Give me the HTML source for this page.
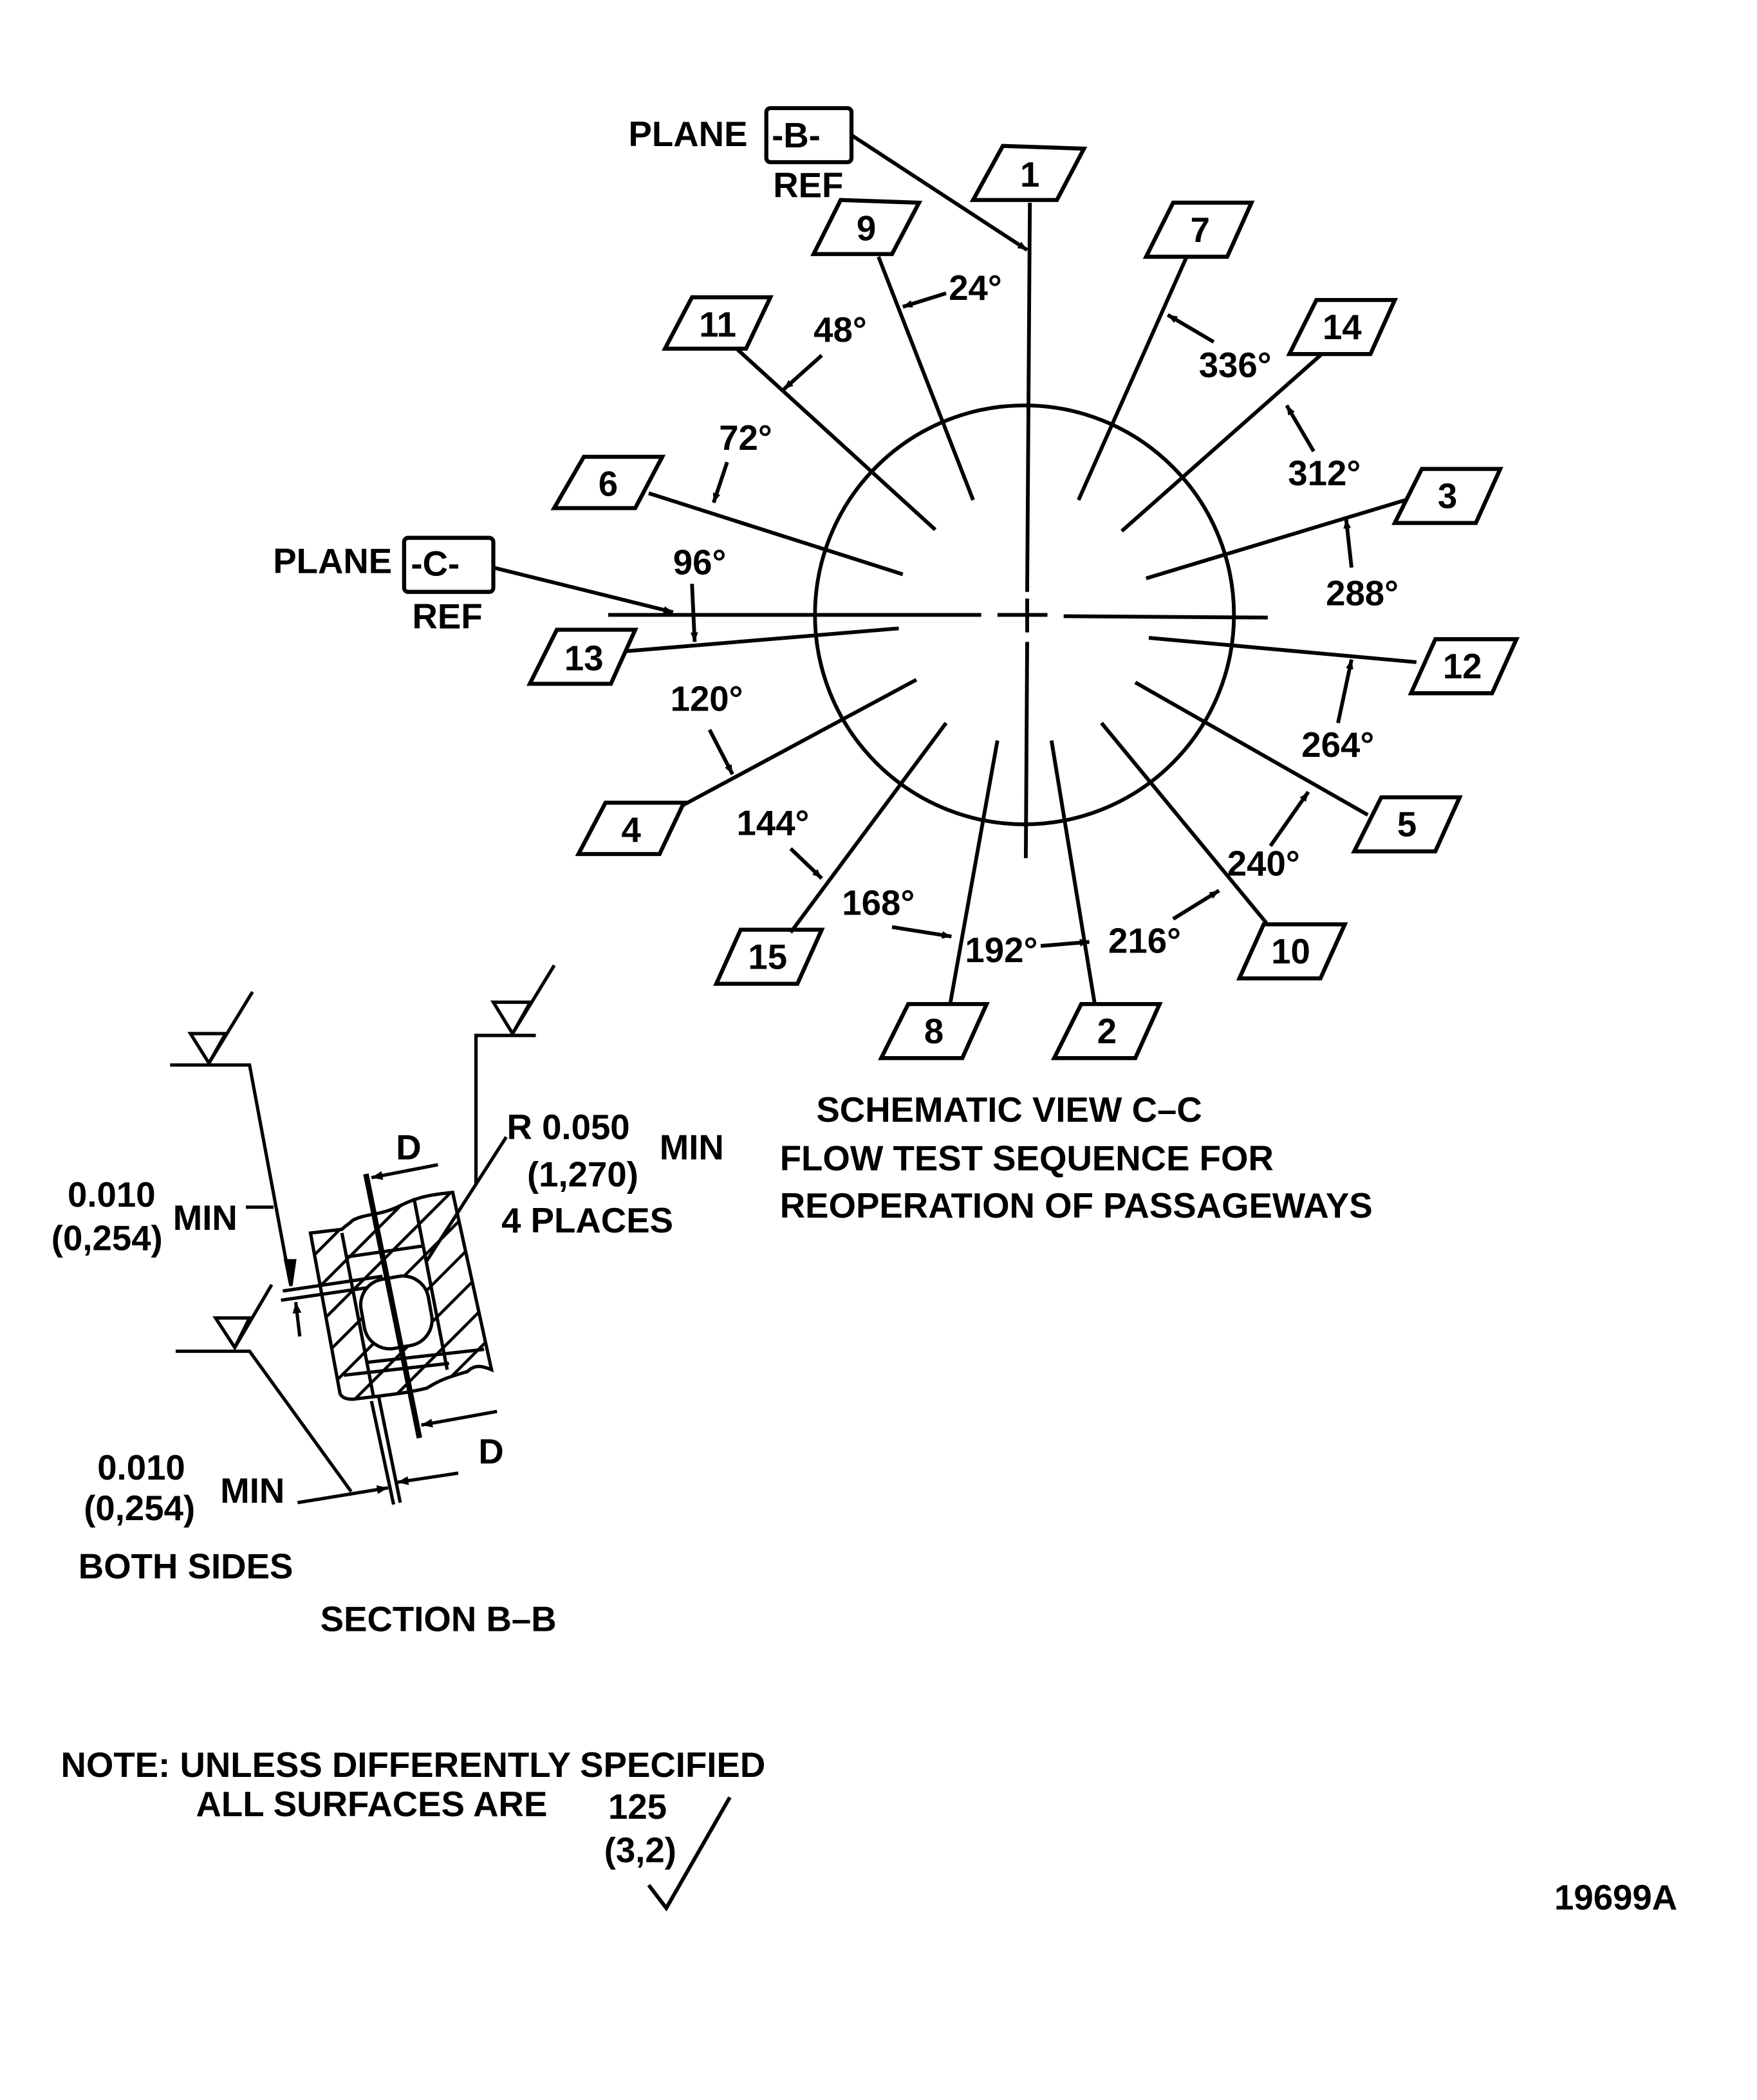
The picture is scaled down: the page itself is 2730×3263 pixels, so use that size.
<!DOCTYPE html>
<html><head><meta charset="utf-8"><style>
html,body{margin:0;padding:0;background:#fff;}
svg{display:block;}
text{font-family:"Liberation Sans",sans-serif;fill:#000;font-weight:bold;}
</style></head><body>
<svg width="2730" height="3263" viewBox="0 0 1300 1554" preserveAspectRatio="none" xmlns="http://www.w3.org/2000/svg">
<defs>
<marker id="a" viewBox="0 0 10 10" refX="10" refY="5" markerWidth="10" markerHeight="7" orient="auto" markerUnits="userSpaceOnUse"><path d="M0,1 L10,5 L0,9 z" fill="#000"/></marker>
<marker id="b" viewBox="0 0 10 10" refX="10" refY="5" markerWidth="55" markerHeight="30" orient="auto" markerUnits="userSpaceOnUse"><path d="M0,1 L10,5 L0,9 z" fill="#000"/></marker>
<clipPath id="cl"><path d="M405,725 L490,715 C500,705 510,700 520,690 C560,670 590,680 650,650 C700,625 740,620 790,615 L895,1095 C870,1085 850,1080 830,1100 C780,1115 760,1120 720,1145 C660,1160 600,1165 520,1175 C500,1175 490,1170 485,1160 Z"/></clipPath>
</defs>
<g stroke="#000" fill="none" stroke-width="2.8">
<circle cx="758" cy="455" r="155"/>
<line x1="450" y1="455" x2="726" y2="455"/>
<line x1="738" y1="455" x2="775" y2="455"/>
<line x1="787" y1="456" x2="938" y2="457"/>
<line x1="762" y1="150" x2="760" y2="438"/>
<line x1="760" y1="443" x2="760" y2="468"/>
<line x1="760" y1="475" x2="759" y2="635"/>
<line x1="720" y1="370" x2="650" y2="190"/>
<line x1="692" y1="392" x2="545" y2="258"/>
<line x1="668" y1="425" x2="480" y2="365"/>
<line x1="665" y1="465" x2="462" y2="482"/>
<line x1="678" y1="503" x2="505" y2="596"/>
<line x1="700" y1="535" x2="585" y2="690"/>
<line x1="738" y1="548" x2="703" y2="743"/>
<line x1="778" y1="548" x2="810" y2="743"/>
<line x1="815" y1="535" x2="937" y2="683"/>
<line x1="840" y1="505" x2="1012" y2="603"/>
<line x1="850" y1="472" x2="1048" y2="490"/>
<line x1="848" y1="428" x2="1040" y2="370"/>
<line x1="830" y1="393" x2="978" y2="262"/>
<line x1="798" y1="370" x2="878" y2="190"/>
<g stroke-width="3">
<path d="M742,108 L802,110 L782,148 L720,148 Z"/>
<path d="M622,148 L680,150 L660,188 L602,188 Z"/>
<path d="M512,220 L570,220 L552,258 L492,258 Z"/>
<path d="M432,338 L490,338 L470,376 L410,376 Z"/>
<path d="M412,466 L470,466 L452,506 L392,506 Z"/>
<path d="M448,594 L506,594 L488,632 L428,632 Z"/>
<path d="M548,688 L608,688 L590,728 L530,728 Z"/>
<path d="M672,743 L730,743 L712,783 L652,783 Z"/>
<path d="M800,743 L858,743 L840,783 L780,783 Z"/>
<path d="M935,684 L995,684 L977,724 L917,724 Z"/>
<path d="M1022,590 L1080,590 L1062,630 L1002,630 Z"/>
<path d="M1062,473 L1122,473 L1104,513 L1044,513 Z"/>
<path d="M1052,347 L1110,347 L1092,387 L1032,387 Z"/>
<path d="M974,222 L1032,222 L1014,262 L954,262 Z"/>
<path d="M868,150 L926,150 L908,190 L848,190 Z"/>
<rect x="567" y="80" width="63" height="40" rx="3"/>
<rect x="299" y="398" width="66" height="40" rx="3"/>
</g>
<line x1="630" y1="100" x2="760" y2="185" marker-end="url(#a)"/>
<line x1="365" y1="420" x2="498" y2="453" marker-end="url(#a)"/>
<line x1="700" y1="217" x2="668" y2="227" marker-end="url(#a)"/>
<line x1="608" y1="263" x2="580" y2="288" marker-end="url(#a)"/>
<line x1="538" y1="342" x2="528" y2="372" marker-end="url(#a)"/>
<line x1="512" y1="432" x2="514" y2="475" marker-end="url(#a)"/>
<line x1="525" y1="540" x2="542" y2="573" marker-end="url(#a)"/>
<line x1="585" y1="628" x2="608" y2="650" marker-end="url(#a)"/>
<line x1="660" y1="686" x2="704" y2="693" marker-end="url(#a)"/>
<line x1="770" y1="700" x2="806" y2="697" marker-end="url(#a)"/>
<line x1="868" y1="680" x2="902" y2="659" marker-end="url(#a)"/>
<line x1="940" y1="626" x2="968" y2="586" marker-end="url(#a)"/>
<line x1="990" y1="535" x2="1000" y2="488" marker-end="url(#a)"/>
<line x1="1000" y1="420" x2="996" y2="384" marker-end="url(#a)"/>
<line x1="972" y1="334" x2="952" y2="300" marker-end="url(#a)"/>
<line x1="898" y1="253" x2="864" y2="233" marker-end="url(#a)"/>
<polyline points="480,1395 493,1412 540,1330"/>
</g>
<g transform="translate(119.05,714.3) scale(0.2733)" stroke="#000" fill="none" stroke-width="9">
<polyline points="25,270 240,270 350,860"/>
<path d="M80,185 L175,185 L130,265 Z"/><line x1="130" y1="265" x2="248" y2="72"/>
<path d="M338,800 L362,800 L352,868 Z" fill="#000"/>
<line x1="230" y1="655" x2="305" y2="655"/>
<line x1="330" y1="882" x2="600" y2="842"/>
<line x1="325" y1="907" x2="600" y2="867"/>
<line x1="376" y1="1005" x2="365" y2="912" marker-end="url(#b)"/>
<polyline points="40,1045 240,1045 515,1425"/>
<path d="M148,955 L240,955 L200,1035 Z"/><line x1="200" y1="1035" x2="300" y2="865"/>
<line x1="370" y1="1455" x2="615" y2="1415" marker-end="url(#b)"/>
<line x1="805" y1="1375" x2="640" y2="1400" marker-end="url(#b)"/>
<line x1="570" y1="1180" x2="630" y2="1460"/>
<line x1="590" y1="1170" x2="648" y2="1455"/>
<polyline points="1015,190 853,190 853,595"/>
<path d="M900,100 L1000,100 L952,185 Z"/><line x1="952" y1="185" x2="1065" y2="0"/>
<line x1="935" y1="465" x2="720" y2="800"/>
<path d="M405,725 L490,715 C500,705 510,700 520,690 C560,670 590,680 650,650 C700,625 740,620 790,615 L895,1095 C870,1085 850,1080 830,1100 C780,1115 760,1120 720,1145 C660,1160 600,1165 520,1175 C500,1175 490,1170 485,1160 Z"/>
<g clip-path="url(#cl)" stroke-width="8">
<line x1="300" y1="900" x2="800" y2="400"/><line x1="300" y1="1000" x2="850" y2="450"/>
<line x1="300" y1="1100" x2="900" y2="500"/><line x1="320" y1="1180" x2="950" y2="550"/>
<line x1="400" y1="1200" x2="1000" y2="600"/><line x1="450" y1="1250" x2="1000" y2="700"/>
<line x1="500" y1="1300" x2="1000" y2="800"/><line x1="550" y1="1350" x2="1000" y2="900"/>
</g>
<line x1="490" y1="725" x2="575" y2="1165"/>
<line x1="685" y1="630" x2="775" y2="1095"/>
<line x1="500" y1="790" x2="710" y2="760"/>
<line x1="495" y1="1110" x2="780" y2="1078"/>
<line x1="560" y1="1075" x2="875" y2="1040"/>
<rect x="545" y="845" width="185" height="190" rx="70" transform="rotate(-10 637 940)" fill="#fff"/>
<line x1="555" y1="565" x2="700" y2="1280" stroke-width="15"/>
<line x1="750" y1="540" x2="570" y2="575" marker-end="url(#b)"/>
<line x1="910" y1="1208" x2="705" y2="1245" marker-end="url(#b)"/>
</g>
<g font-size="26">
<text x="465" y="108">PLANE</text>
<text x="571" y="109">-B-</text>
<text x="572" y="146">REF</text>
<text x="202" y="424">PLANE</text>
<text x="304" y="426">-C-</text>
<text x="305" y="465">REF</text>
<g text-anchor="middle">
<text x="762" y="138">1</text><text x="641" y="178">9</text><text x="531" y="249">11</text>
<text x="450" y="367">6</text><text x="432" y="496">13</text><text x="467" y="623">4</text>
<text x="568" y="717">15</text><text x="691" y="772">8</text><text x="819" y="772">2</text>
<text x="955" y="713">10</text><text x="1041" y="619">5</text><text x="1082" y="502">12</text>
<text x="1071" y="376">3</text><text x="993" y="251">14</text><text x="888" y="179">7</text>
</g>
<text x="702" y="222">24°</text><text x="602" y="253">48°</text><text x="532" y="333">72°</text>
<text x="498" y="425">96°</text><text x="496" y="526">120°</text><text x="545" y="618">144°</text>
<text x="623" y="677">168°</text><text x="714" y="712">192°</text><text x="820" y="705">216°</text>
<text x="908" y="648">240°</text><text x="963" y="560">264°</text><text x="981" y="448">288°</text>
<text x="953" y="359">312°</text><text x="887" y="279">336°</text>
<text x="604" y="830">SCHEMATIC VIEW C–C</text>
<text x="577" y="866">FLOW TEST SEQUENCE FOR</text>
<text x="577" y="901">REOPERATION OF  PASSAGEWAYS</text>
<text x="50" y="893">0.010</text><text x="38" y="925">(0,254)</text><text x="128" y="910">MIN</text>
<text x="293" y="858">D</text><text x="354" y="1083">D</text>
<text x="375" y="843">R 0.050</text><text x="488" y="858">MIN</text>
<text x="390" y="878">(1,270)</text><text x="371" y="912">4 PLACES</text>
<text x="72" y="1095">0.010</text><text x="62" y="1125">(0,254)</text><text x="163" y="1112">MIN</text>
<text x="58" y="1168">BOTH SIDES</text>
<text x="237" y="1207">SECTION B–B</text>
<text x="45" y="1315">NOTE: UNLESS DIFFERENTLY SPECIFIED</text>
<text x="145" y="1344">ALL SURFACES ARE</text>
<text x="450" y="1346">125</text><text x="447" y="1378">(3,2)</text>
<text x="1150" y="1413">19699A</text>
</g>
</svg>
</body></html>
